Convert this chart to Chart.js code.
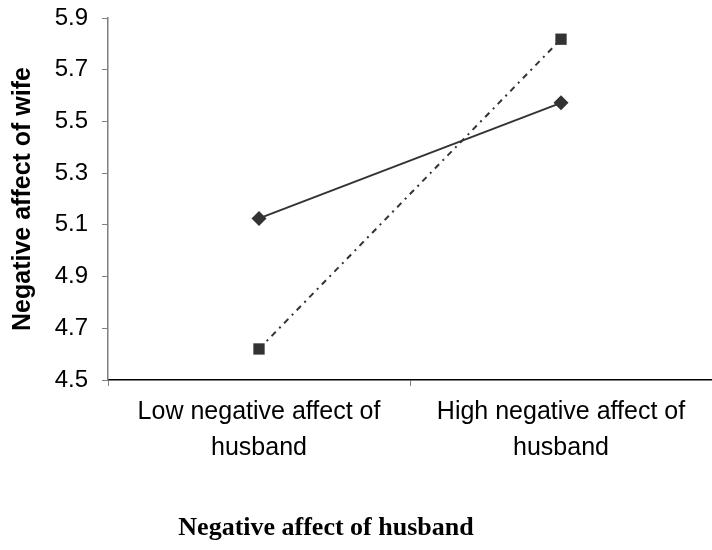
<!DOCTYPE html>
<html>
<head>
<meta charset="utf-8">
<script src="https://cdn.jsdelivr.net/npm/chart.js@4.4.0/dist/chart.umd.min.js"></script>
<style>
html, body { margin: 0; padding: 0; background: #fff; }
#wrap { width: 712px; height: 550px; }
</style>
</head>
<body>
<div id="wrap"><canvas id="interactionChart"></canvas></div>
<script>
const categories = [["Low negative affect of", "husband"], ["High negative affect of", "husband"]];
const solidValues = [5.125, 5.572];
const dottedValues = [4.62, 5.818];
const yTicks = [4.5, 4.7, 4.9, 5.1, 5.3, 5.5, 5.7, 5.9];
const yTitle = "Negative affect of wife";
const xTitle = "Negative affect of husband";

const sans = '"Liberation Sans", Arial, sans-serif';
const ink = '#333333';

// x axis title is drawn below the tick labels, not centred on the plot
const xTitlePlugin = {
    id: 'xTitle',
    afterDraw(chart) {
        const ctx = chart.ctx;
        ctx.save();
        ctx.font = 'bold 26px "Liberation Serif", "Times New Roman", serif';
        ctx.fillStyle = '#000';
        ctx.textAlign = 'center';
        ctx.textBaseline = 'middle';
        ctx.fillText(xTitle, 326, 528);
        ctx.restore();
    }
};

const ctx = document.getElementById('interactionChart').getContext('2d');
new Chart(ctx, {
    type: 'line',
    data: {
        labels: categories,
        datasets: [
            {
                data: solidValues,
                borderColor: ink,
                borderWidth: 2,
                pointStyle: 'rectRot',
                pointRadius: 7.5,
                pointBackgroundColor: ink,
                pointBorderWidth: 0
            },
            {
                data: dottedValues,
                borderColor: ink,
                borderWidth: 2,
                borderDash: [6, 5, 2, 5],
                pointStyle: 'rect',
                pointRadius: 8,
                pointBackgroundColor: ink,
                pointBorderWidth: 0
            }
        ]
    },
    options: {
        responsive: true,
        maintainAspectRatio: false,
        animation: false,
        layout: {
            autoPadding: false,
            padding: { top: 18, right: 0, bottom: 0, left: 0 }
        },
        plugins: {
            legend: { display: false },
            tooltip: { enabled: false }
        },
        scales: {
            x: {
                offset: true,
                afterFit: s => {
                    s.height = 170;
                    s.paddingLeft = 0;
                    s.paddingRight = 0;
                },
                border: { color: '#000', width: 1.5 },
                grid: {
                    offset: true,
                    drawOnChartArea: false,
                    drawTicks: true,
                    tickLength: 6,
                    color: '#808080'
                },
                ticks: {
                    color: '#000',
                    padding: 8,
                    maxRotation: 0,
                    font: { family: sans, size: 25, lineHeight: 1.45 }
                }
            },
            y: {
                min: 4.5,
                max: 5.9,
                afterFit: s => {
                    s.width = 108;
                    s.paddingTop = 0;
                    s.paddingBottom = 0;
                },
                afterBuildTicks: axis => { axis.ticks = yTicks.map(v => ({ value: v })); },
                border: { color: '#808080', width: 1.5 },
                grid: {
                    drawOnChartArea: false,
                    drawTicks: true,
                    tickLength: 6,
                    color: '#808080'
                },
                ticks: {
                    color: '#000',
                    padding: 14,
                    font: { family: sans, size: 24 },
                    callback: v => v.toFixed(1)
                },
                title: {
                    display: true,
                    text: yTitle,
                    color: '#000',
                    padding: { top: 8, bottom: 0 },
                    font: { family: sans, size: 25, weight: 'bold' }
                }
            }
        }
    },
    plugins: [xTitlePlugin]
});
</script>
</body>
</html>
